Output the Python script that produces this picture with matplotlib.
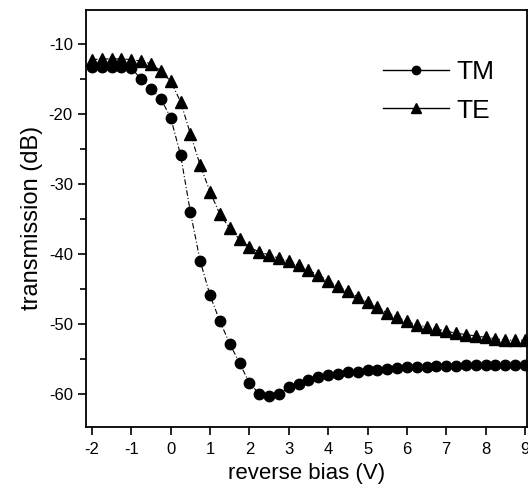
import numpy as np
import matplotlib
matplotlib.use("Agg")
from matplotlib import pyplot as plt
from matplotlib.lines import Line2D

plt.rcParams['font.family'] = ['Liberation Sans', 'DejaVu Sans']
plt.rcParams['axes.unicode_minus'] = False

# reverse bias (V), step 0.25 V
bias = np.arange(-2, 9.001, 0.25)

# transmission (dB)
tm = [-13.3, -13.3, -13.3, -13.3, -13.4, -15.0, -16.4, -17.8, -20.5, -25.8,
      -34.0, -41.0, -45.9, -49.6, -52.8, -55.6, -58.4, -60.0, -60.3, -60.0,
      -59.0, -58.5, -58.0, -57.6, -57.3, -57.1, -56.9, -56.8, -56.6, -56.5,
      -56.4, -56.3, -56.2, -56.1, -56.1, -56.0, -56.0, -56.0, -55.9, -55.9,
      -55.9, -55.9, -55.9, -55.9, -55.9]
te = [-12.2, -12.1, -12.1, -12.1, -12.2, -12.4, -12.8, -13.8, -15.3, -18.2,
      -22.8, -27.3, -31.1, -34.3, -36.3, -37.9, -39.0, -39.7, -40.1, -40.6,
      -41.0, -41.6, -42.3, -43.0, -43.8, -44.6, -45.3, -46.1, -46.9, -47.6,
      -48.4, -49.0, -49.6, -50.1, -50.4, -50.7, -51.0, -51.3, -51.5, -51.7,
      -51.9, -52.1, -52.3, -52.3, -52.3]

xticks = list(range(-2, 10))
yticks = [-10, -20, -30, -40, -50, -60]
yminor = [-15, -25, -35, -45, -55]

fig = plt.figure(figsize=(5.28, 4.97), dpi=100)
ax = fig.add_axes([0.163, 0.141, 0.835, 0.839])

ax.plot(bias, tm, color='black', lw=0.8, ls=(0, (5, 2, 1, 2)), marker='o', ms=7.5)
ax.plot(bias, te, color='black', lw=0.8, ls=(0, (5, 2, 1, 2)), marker='^', ms=9)

ax.set_xlim(-2.15, 9.05)
ax.set_ylim(-64.7, -5.1)
ax.set_xticks(xticks)
ax.set_xticklabels([str(t) for t in xticks])
ax.set_yticks(yticks)
ax.set_yticks(yminor, minor=True)
ax.tick_params(which='major', direction='out', length=6, width=1.2,
               labelsize=12, colors='black')
ax.tick_params(axis='x', pad=5)
ax.tick_params(which='minor', direction='out', length=4, width=1.2)
for s in ax.spines.values():
    s.set_linewidth(1.3)

ax.set_xlabel('reverse bias (V)', fontsize=16, labelpad=4)
ax.set_ylabel('transmission (dB)', fontsize=17, labelpad=4)

handles = [Line2D([], [], color='black', lw=1, marker='o', ms=6),
           Line2D([], [], color='black', lw=1, marker='^', ms=7)]
ax.legend(handles, ['TM', 'TE'], loc='center', bbox_to_anchor=(0.80, 0.805),
          frameon=False, fontsize=19, handlelength=2.5, handletextpad=0.3,
          labelspacing=0.55)

fig.savefig('out.png', dpi=100)
